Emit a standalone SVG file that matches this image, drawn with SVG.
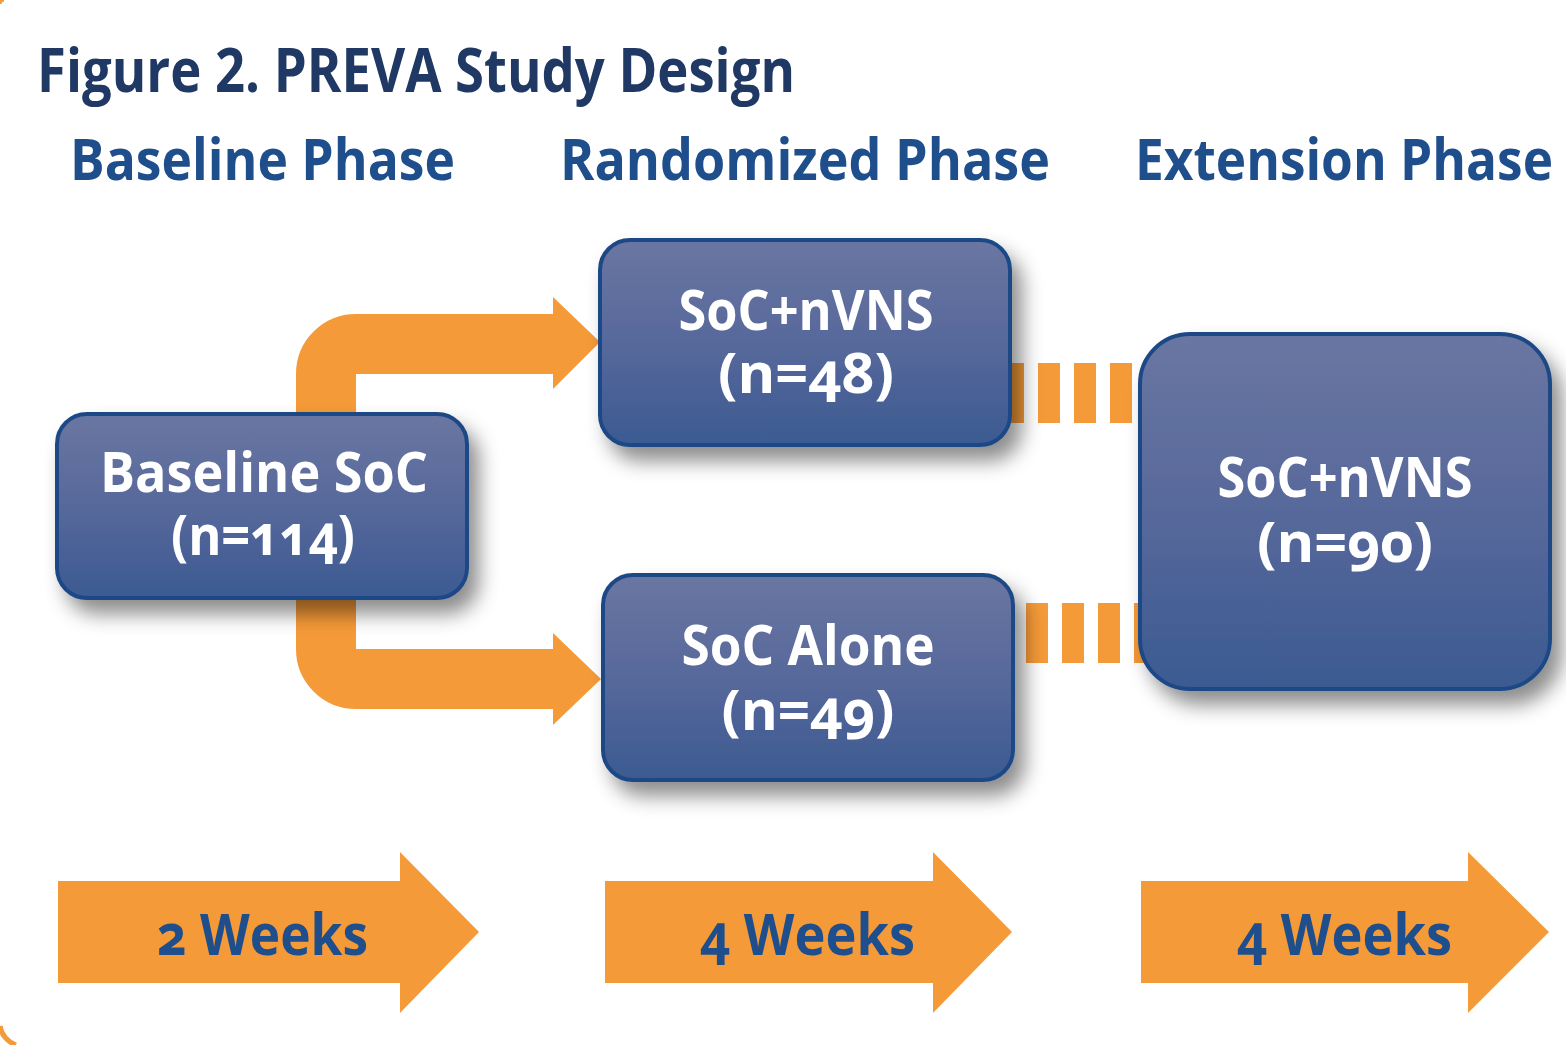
<svg xmlns="http://www.w3.org/2000/svg" width="1566" height="1045" viewBox="0 0 1566 1045">
<defs>
<linearGradient id="boxg" x1="0" y1="0" x2="0" y2="1">
<stop offset="0" stop-color="#6a76a2"/>
<stop offset="0.55" stop-color="#55679a"/>
<stop offset="1" stop-color="#3b5a92"/>
</linearGradient>
<filter id="shadow" x="-20%" y="-20%" width="150%" height="160%">
<feDropShadow dx="10" dy="14" stdDeviation="10" flood-color="#000" flood-opacity="0.45"/>
</filter>
<style>
.title{font-family:"Open Sans","Noto Sans",sans-serif;font-weight:700;fill:#1f3864;}
.phase{font-family:"Open Sans","Noto Sans",sans-serif;font-weight:700;fill:#1f4e8c;}
.box{fill:url(#boxg);stroke:#1f4a86;stroke-width:4;filter:url(#shadow);}
.bt{font-family:"Open Sans","Noto Sans",sans-serif;font-weight:700;fill:#ffffff;font-size:56px;text-anchor:middle;font-variant-numeric:oldstyle-nums;}
.wk{font-family:"Open Sans","Noto Sans",sans-serif;font-weight:700;fill:#1f4e8c;font-size:58px;font-variant-numeric:oldstyle-nums;}
.orange{fill:#f59a38;}
.ostroke{fill:none;stroke:#f59a38;stroke-width:60;}
.dash{fill:none;stroke:#f59a38;stroke-width:60;stroke-dasharray:22 14;}
</style>
</defs>
<rect width="1566" height="1045" fill="#ffffff"/>
<path d="M0,1026 A24,24 0 0 0 16,1045" fill="none" stroke="#f59a38" stroke-width="5"/>
<path d="M0,4 A4,4 0 0 1 4,0" fill="none" stroke="#f59a38" stroke-width="3"/>

<g id="title">
<text class="title" x="37" y="92" font-size="60" textLength="758" lengthAdjust="spacingAndGlyphs">Figure 2. PREVA Study Design</text>
</g>
<g id="phase-headings">
<text class="phase" x="70" y="180" font-size="58" textLength="385" lengthAdjust="spacingAndGlyphs">Baseline Phase</text>
<text class="phase" x="560" y="180" font-size="58" textLength="490" lengthAdjust="spacingAndGlyphs">Randomized Phase</text>
<text class="phase" x="1135" y="180" font-size="58" textLength="418" lengthAdjust="spacingAndGlyphs">Extension Phase</text>
</g>

<g id="connectors">
<path class="ostroke" d="M326,430 V374 A30,30 0 0 1 356,344 H556"/>
<polygon class="orange" points="553,297 600,342 553,389"/>
<path class="ostroke" d="M326,580 V649 A30,30 0 0 0 356,679 H556"/>
<polygon class="orange" points="553,633 601,679 553,725"/>
<line class="dash" x1="1002" y1="393" x2="1145" y2="393"/>
<line class="dash" x1="1026" y1="633" x2="1150" y2="633"/>
</g>

<g id="node-baseline">
<rect class="box" x="57" y="414" width="410" height="184" rx="30"/>
<text class="bt" x="264" y="492" textLength="328" lengthAdjust="spacingAndGlyphs">Baseline SoC</text>
<text class="bt" x="263" y="555" textLength="184" lengthAdjust="spacingAndGlyphs">(n=114)</text>
</g>
<g id="node-socnvns">
<rect class="box" x="600" y="240" width="410" height="205" rx="30"/>
<text class="bt" x="806" y="330" textLength="255" lengthAdjust="spacingAndGlyphs">SoC+nVNS</text>
<text class="bt" x="806" y="393" textLength="176" lengthAdjust="spacingAndGlyphs">(n=48)</text>
</g>
<g id="node-socalone">
<rect class="box" x="603" y="575" width="410" height="205" rx="30"/>
<text class="bt" x="808" y="665" textLength="253" lengthAdjust="spacingAndGlyphs">SoC Alone</text>
<text class="bt" x="808" y="730" textLength="173" lengthAdjust="spacingAndGlyphs">(n=49)</text>
</g>
<g id="node-extension">
<rect class="box" x="1140" y="334" width="410" height="355" rx="50"/>
<text class="bt" x="1345" y="497" textLength="255" lengthAdjust="spacingAndGlyphs">SoC+nVNS</text>
<text class="bt" x="1345" y="562" textLength="176" lengthAdjust="spacingAndGlyphs">(n=90)</text>
</g>

<g id="timeline-1">
<polygon class="orange" points="58,881 400,881 400,852 479,932 400,1013 400,983 58,983"/>
<text class="wk" x="157" y="955" textLength="211" lengthAdjust="spacingAndGlyphs">2 Weeks</text>
</g>
<g id="timeline-2">
<polygon class="orange" points="605,881 933,881 933,852 1012,932 933,1013 933,983 605,983"/>
<text class="wk" x="700" y="955" textLength="215" lengthAdjust="spacingAndGlyphs">4 Weeks</text>
</g>
<g id="timeline-3">
<polygon class="orange" points="1141,881 1468,881 1468,852 1549,932 1468,1013 1468,983 1141,983"/>
<text class="wk" x="1237" y="955" textLength="215" lengthAdjust="spacingAndGlyphs">4 Weeks</text>
</g>
</svg>
